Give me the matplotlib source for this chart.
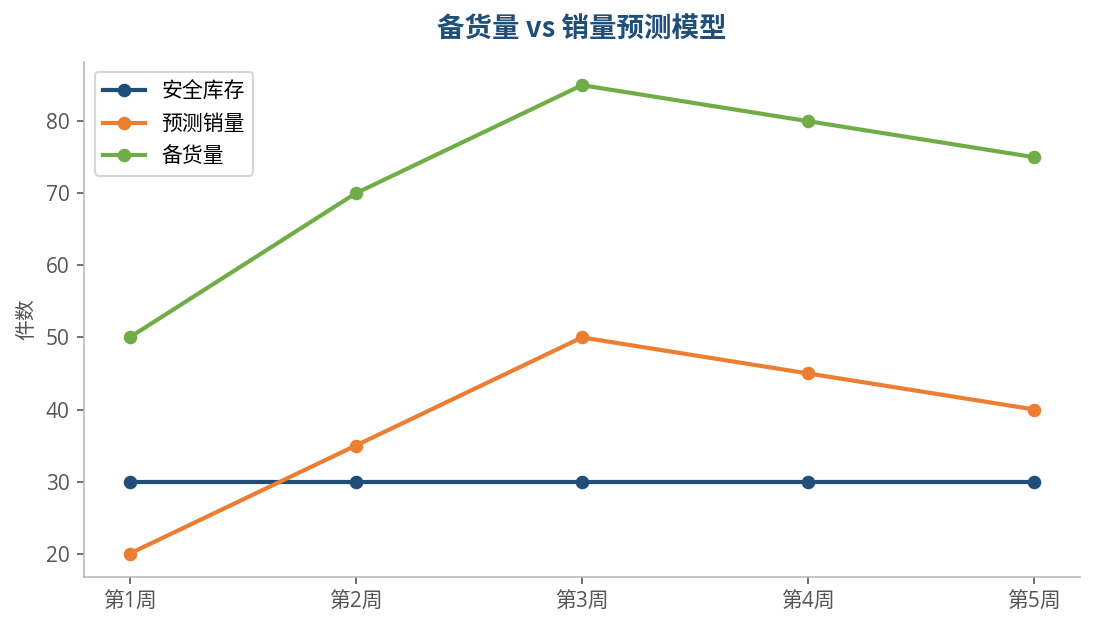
import matplotlib
matplotlib.use('Agg')
import matplotlib.pyplot as plt

plt.rcParams['font.family'] = ['Open Sans', 'Noto Sans CJK SC', 'DejaVu Sans']

weeks = ['第1周', '第2周', '第3周', '第4周', '第5周']
safety_stock = [30, 30, 30, 30, 30]
forecast_sales = [20, 35, 50, 45, 40]
stock_qty = [50, 70, 85, 80, 75]

fig, ax = plt.subplots(figsize=(7.3, 4.2), dpi=150)
ax.plot(weeks, safety_stock, marker='o', lw=2, ms=5.5, color='#1f4e79', label='安全库存')
ax.plot(weeks, forecast_sales, marker='o', lw=2, ms=5.5, color='#ed7d31', label='预测销量')
ax.plot(weeks, stock_qty, marker='o', lw=2, ms=5.5, color='#70ad47', label='备货量')

ax.set_title('备货量 vs 销量预测模型', fontsize=13.2, fontweight='bold', color='#1f4e79',
             family=['Noto Sans CJK SC', 'DejaVu Sans'], pad=12)
ax.set_ylabel('件数', fontsize=10, color='#555555', family=['Noto Sans CJK SC'])

for s in ['top', 'right']:
    ax.spines[s].set_visible(False)
for s in ['left', 'bottom']:
    ax.spines[s].set_color('#bbbbbb')
ax.tick_params(colors='#555555', labelsize=10)

leg = ax.legend(loc='upper left', prop={'family': 'Noto Sans CJK SC', 'size': 10})
leg.get_frame().set_edgecolor('#cccccc')

fig.subplots_adjust(left=0.077, right=0.986, bottom=0.084, top=0.902)
fig.savefig('out.png', dpi=150)
